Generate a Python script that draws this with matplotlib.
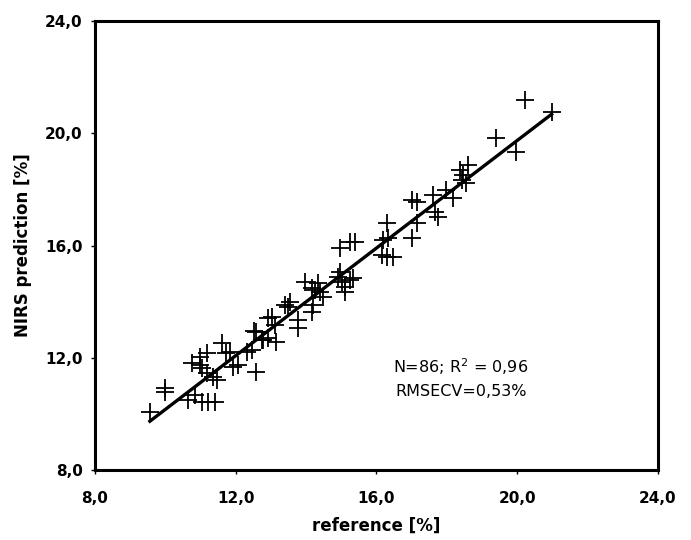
import numpy as np
import matplotlib
matplotlib.use('Agg')
import matplotlib.pyplot as plt

## Reference vs NIRS prediction values
reference = [9.56, 9.99, 9.99, 10.65, 10.84, 11.03, 11.22, 11.41, 10.75, 10.98,
             11.17, 11.03, 11.17, 11.36, 11.46, 10.98, 11.62, 11.72, 11.84, 11.93,
             12.07, 12.31, 12.45, 12.59, 12.59, 12.78, 12.93, 13.15, 12.93, 13.02,
             13.12, 13.40, 13.49, 13.54, 13.78, 13.78, 13.97, 14.16, 14.25, 14.35,
             14.39, 14.20, 14.16, 14.49, 14.91, 15.01, 15.10, 15.34, 15.10, 14.96,
             15.25, 15.39, 14.96, 15.25, 16.29, 16.19, 16.33, 16.15, 16.29, 16.48,
             17.00, 17.14, 17.14, 17.00, 17.61, 17.66, 17.76, 17.99, 18.18, 18.42,
             18.47, 18.56, 18.37, 18.61, 19.41, 19.98, 20.22, 20.98, 12.52, 12.74]
prediction = [10.08, 10.92, 10.78, 10.49, 10.67, 10.43, 10.43, 10.43, 11.80, 12.04,
              12.16, 11.62, 11.45, 11.33, 11.21, 11.73, 12.51, 12.18, 12.21, 11.68,
              11.74, 12.21, 12.28, 11.50, 12.93, 12.63, 12.69, 12.55, 13.41, 13.47,
              13.17, 13.88, 13.82, 14.00, 13.35, 13.05, 14.71, 14.48, 14.41, 14.65,
              14.35, 13.88, 13.64, 14.18, 14.89, 14.71, 14.53, 14.83, 14.35, 15.90,
              16.14, 16.14, 15.07, 14.77, 16.79, 16.20, 16.26, 15.66, 15.60, 15.60,
              17.62, 17.56, 16.79, 16.26, 17.80, 17.21, 17.03, 17.98, 17.68, 18.34,
              18.51, 18.22, 18.69, 18.87, 19.82, 19.34, 21.19, 20.77, 12.95, 12.65]

## Regression line as drawn in the chart
fit_slope = 0.958
fit_intercept = 0.58

ticks = [8, 12, 16, 20, 24]
tick_labels = ['8,0', '12,0', '16,0', '20,0', '24,0']

## Figure
plt.rcParams['font.family'] = 'DejaVu Sans'
fig = plt.figure(figsize=(6.91, 5.40), dpi=100)
ax = fig.add_axes([0.1375, 0.1296, 0.8145, 0.8315])

ax.plot(reference, prediction, linestyle='none', marker='+', color='black',
        markersize=13, markeredgewidth=1.3)

x_line = np.array([min(reference), max(reference)])
ax.plot(x_line, fit_slope * x_line + fit_intercept, color='black', linewidth=2.4)

ax.text(18.4, 11.67, 'N=86; R$^2$ = 0,96', ha='center', va='center', fontsize=11.5)
ax.text(18.4, 10.81, 'RMSECV=0,53%', ha='center', va='center', fontsize=11.5)

ax.set_xlim(8, 24)
ax.set_ylim(8, 24)
ax.set_xticks(ticks)
ax.set_xticklabels(tick_labels, fontweight='bold', fontsize=11)
ax.set_yticks(ticks)
ax.set_yticklabels(tick_labels, fontweight='bold', fontsize=11)
ax.tick_params(axis='x', direction='out', length=3, width=1, pad=12)
ax.tick_params(axis='y', direction='out', length=3, width=1, pad=6)

for spine in ax.spines.values():
    spine.set_linewidth(2.2)
    spine.set_color('black')

ax.set_xlabel('reference [%]', fontweight='bold', fontsize=12, labelpad=8)
ax.set_ylabel('NIRS prediction [%]', fontweight='bold', fontsize=12, labelpad=9)

fig.savefig('out.png', dpi=100)
